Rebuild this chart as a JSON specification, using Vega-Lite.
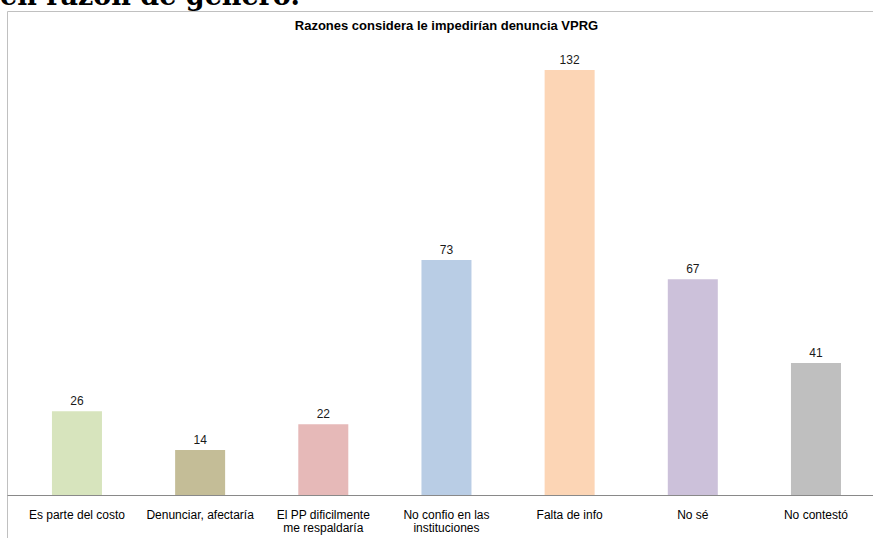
{
  "$schema": "https://vega.github.io/schema/vega-lite/v6.json",
  "width": 866,
  "height": 527,
  "autosize": {"type": "none"},
  "padding": {"left": 7, "top": 11, "right": 0, "bottom": 0},
  "background": "white",
  "title": {
    "text": "en razón de género.",
    "anchor": "start",
    "frame": "bounds",
    "orient": "top",
    "offset": 0,
    "baseline": "alphabetic",
    "dx": -7,
    "dy": 21,
    "font": "DejaVu Serif",
    "fontSize": 27,
    "fontWeight": "bold",
    "color": "#000000"
  },
  "data": {
    "values": [
      {"razon": "Es parte del costo", "n": 26},
      {"razon": "Denunciar, afectaría", "n": 14},
      {"razon": "El PP dificilmente|me respaldaría", "n": 22},
      {"razon": "No confio en las|instituciones", "n": 73},
      {"razon": "Falta de info", "n": 132},
      {"razon": "No sé", "n": 67},
      {"razon": "No contestó", "n": 41}
    ]
  },
  "config": {
    "view": {"stroke": "#C0C0C0", "strokeWidth": 1},
    "font": "Liberation Sans"
  },
  "layer": [
    {
      "mark": {"type": "bar"},
      "encoding": {
        "x": {
          "field": "razon",
          "type": "nominal",
          "sort": null,
          "scale": {"paddingInner": 0.594, "paddingOuter": 0.3125, "align": 0.584},
          "axis": {
            "orient": "bottom",
            "offset": -43,
            "title": null,
            "labelAngle": 0,
            "ticks": false,
            "grid": false,
            "domainColor": "#898989",
            "labelFont": "Liberation Sans",
            "labelFontSize": 12,
            "labelColor": "#000000",
            "labelPadding": 14,
            "labelLineHeight": 13,
            "labelLimit": 300,
            "labelExpr": "split(datum.value, '|')"
          }
        },
        "y": {
          "field": "n",
          "type": "quantitative",
          "scale": {"domain": [-13.36, 150.33], "nice": false, "zero": false},
          "axis": null
        },
        "y2": {"datum": 0},
        "color": {
          "field": "razon",
          "type": "nominal",
          "sort": null,
          "scale": {
            "domain": ["Es parte del costo", "Denunciar, afectaría", "El PP dificilmente|me respaldaría", "No confio en las|instituciones", "Falta de info", "No sé", "No contestó"],
            "range": ["#D7E4BD", "#C4BD97", "#E6B9B8", "#B9CDE5", "#FCD5B5", "#CCC1DA", "#BFBFBF"]
          },
          "legend": null
        }
      }
    },
    {
      "mark": {"type": "text", "dy": -10, "fontSize": 12, "color": "#1a1a1a", "font": "Liberation Sans"},
      "encoding": {
        "x": {
          "field": "razon",
          "type": "nominal",
          "sort": null,
          "axis": {
            "orient": "top",
            "offset": -21,
            "title": "Razones considera le impedirían denuncia VPRG",
            "titlePadding": 0,
            "labels": false,
            "ticks": false,
            "domain": false,
            "grid": false,
            "titleFont": "Liberation Sans",
            "titleFontSize": 13,
            "titleFontWeight": "bold",
            "titleColor": "#000000",
            "titleX": 439
          }
        },
        "y": {"field": "n", "type": "quantitative"},
        "text": {"field": "n", "type": "quantitative"}
      }
    }
  ]
}
